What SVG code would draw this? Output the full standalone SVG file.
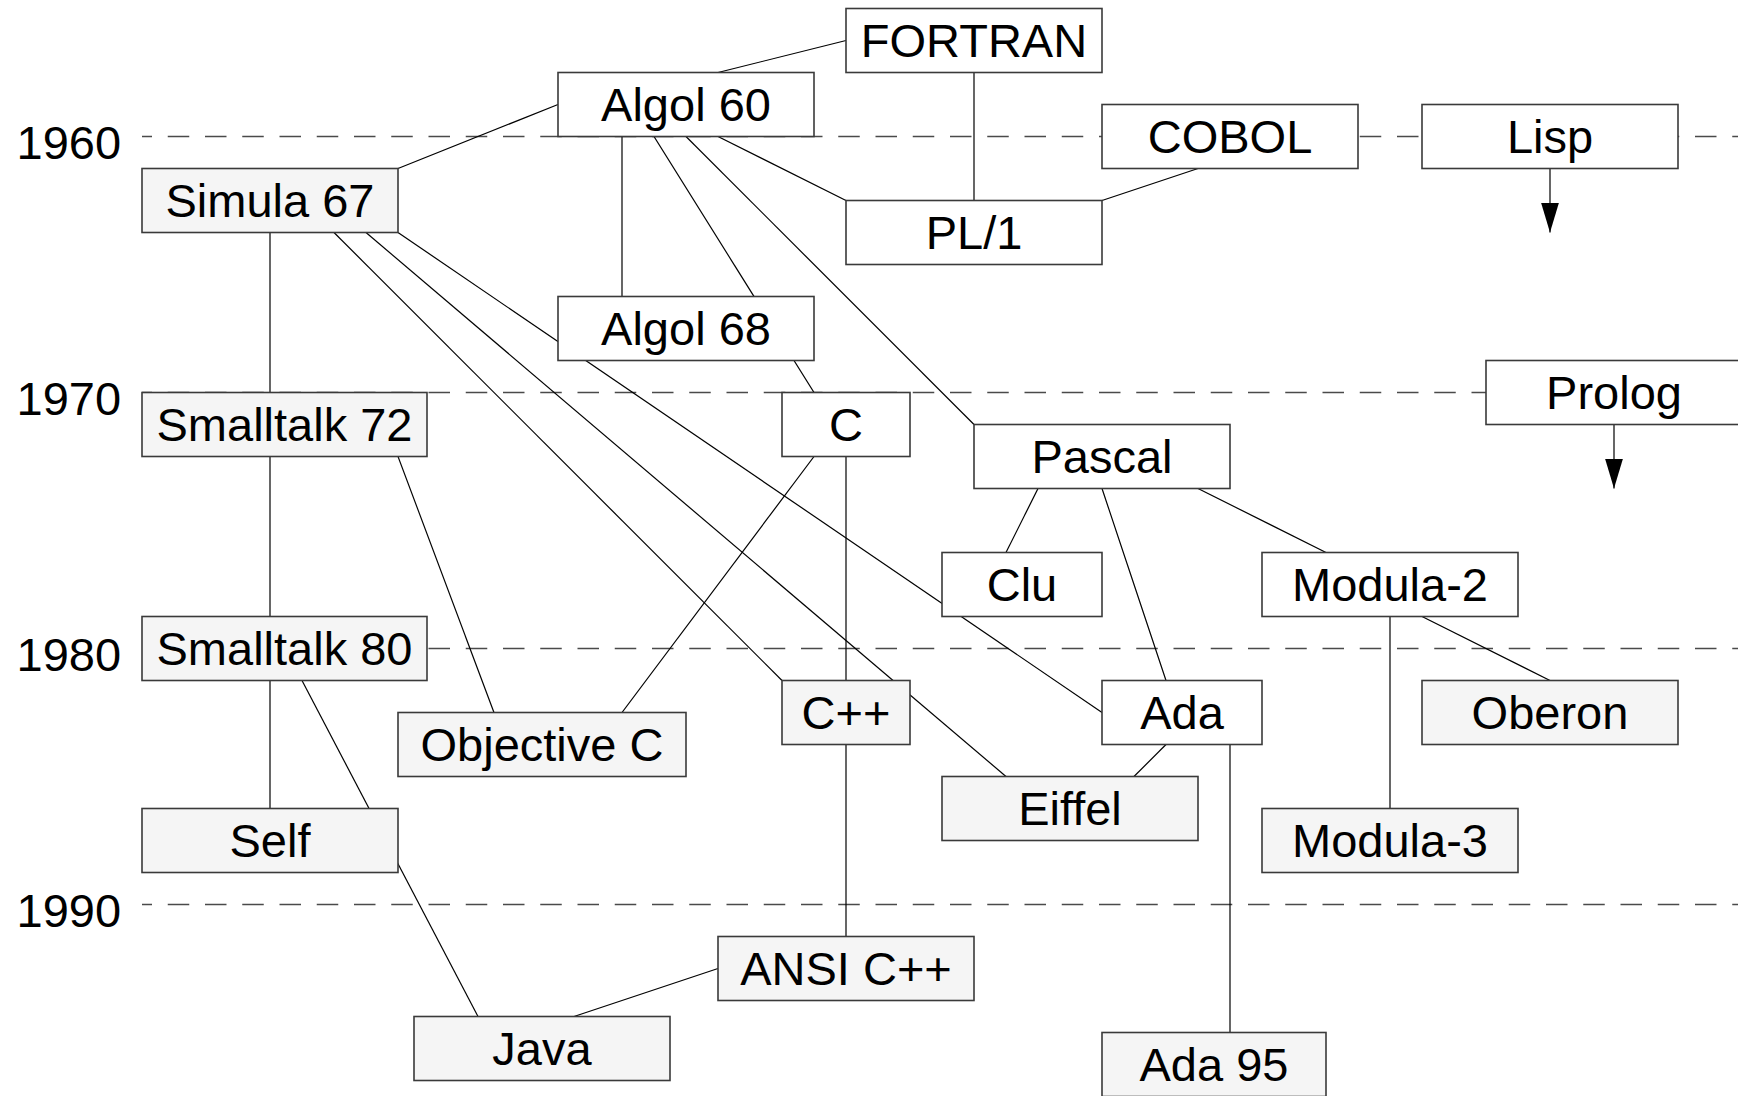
<svg xmlns="http://www.w3.org/2000/svg" width="1738" height="1096" viewBox="0 0 1738 1096">
<style>
.bg{fill:#ffffff}
.year{font-family:"Liberation Sans",Arial,Helvetica,sans-serif;font-size:47px;fill:#000}
.grid{stroke:#4a4a4a;stroke-width:1.5;stroke-dasharray:21.5 15.75;stroke-dashoffset:11.5;fill:none}
.edge{stroke:#000;stroke-width:1.2;fill:none}
.box{stroke:#3a3a3a;stroke-width:1.6}
.plain{fill:#ffffff}
.oo{fill:#f5f5f5}
.lbl{font-family:"Liberation Sans",Arial,Helvetica,sans-serif;font-size:47px;fill:#000;text-anchor:middle}
</style>
<defs>
<marker id="arrow" viewBox="0 0 30 18" refX="30" refY="9" markerWidth="30" markerHeight="18" markerUnits="userSpaceOnUse" orient="auto">
<path d="M0,0 L30,9 L0,18 z" fill="#000"/>
</marker>
</defs>
<rect class="bg" x="0" y="0" width="1738" height="1096"/>
<g id="timeline">
<line class="grid" x1="142" y1="136.5" x2="1738" y2="136.5"/>
<line class="grid" x1="142" y1="392.5" x2="1738" y2="392.5"/>
<line class="grid" x1="142" y1="648.5" x2="1738" y2="648.5"/>
<line class="grid" x1="142" y1="904.5" x2="1738" y2="904.5"/>
<text class="year" x="16.5" y="159">1960</text>
<text class="year" x="16.5" y="415">1970</text>
<text class="year" x="16.5" y="671">1980</text>
<text class="year" x="16.5" y="927">1990</text>
</g>
<g id="connectors">
<line class="edge" x1="846" y1="40.5" x2="718" y2="72.5"/>
<line class="edge" x1="974" y1="72.5" x2="974" y2="200.5"/>
<line class="edge" x1="558" y1="104.5" x2="398" y2="168.5"/>
<line class="edge" x1="622" y1="136.5" x2="622" y2="296.5"/>
<line class="edge" x1="654" y1="136.5" x2="814" y2="392.5"/>
<line class="edge" x1="686" y1="136.5" x2="974" y2="424.5"/>
<line class="edge" x1="718" y1="136.5" x2="846" y2="200.5"/>
<line class="edge" x1="1198" y1="168.5" x2="1102" y2="200.5"/>
<line class="edge" x1="1550" y1="168.5" x2="1550" y2="232.5" marker-end="url(#arrow)"/>
<line class="edge" x1="1614" y1="424.5" x2="1614" y2="488.5" marker-end="url(#arrow)"/>
<line class="edge" x1="270" y1="232.5" x2="270" y2="392.5"/>
<line class="edge" x1="334" y1="232.5" x2="782" y2="680.5"/>
<line class="edge" x1="366" y1="232.5" x2="1006" y2="776.5"/>
<line class="edge" x1="398" y1="232.5" x2="1102" y2="712.5"/>
<line class="edge" x1="270" y1="456.5" x2="270" y2="616.5"/>
<line class="edge" x1="398" y1="456.5" x2="494" y2="712.5"/>
<line class="edge" x1="814" y1="456.5" x2="622" y2="712.5"/>
<line class="edge" x1="846" y1="456.5" x2="846" y2="680.5"/>
<line class="edge" x1="846" y1="744.5" x2="846" y2="936.5"/>
<line class="edge" x1="270" y1="680.5" x2="270" y2="808.5"/>
<line class="edge" x1="302" y1="680.5" x2="478" y2="1016.5"/>
<line class="edge" x1="718" y1="968.5" x2="574" y2="1016.5"/>
<line class="edge" x1="1038" y1="488.5" x2="1006" y2="552.5"/>
<line class="edge" x1="1102" y1="488.5" x2="1166" y2="680.5"/>
<line class="edge" x1="1198" y1="488.5" x2="1326" y2="552.5"/>
<line class="edge" x1="1390" y1="616.5" x2="1390" y2="808.5"/>
<line class="edge" x1="1422" y1="616.5" x2="1550" y2="680.5"/>
<line class="edge" x1="1166" y1="744.5" x2="1134" y2="776.5"/>
<line class="edge" x1="1230" y1="744.5" x2="1230" y2="1032.5"/>
</g>
<g id="fortran"><rect class="box plain" x="846" y="8.5" width="256" height="64"/><text class="lbl" x="974" y="57">FORTRAN</text></g>
<g id="algol60"><rect class="box plain" x="558" y="72.5" width="256" height="64"/><text class="lbl" x="686" y="121">Algol 60</text></g>
<g id="cobol"><rect class="box plain" x="1102" y="104.5" width="256" height="64"/><text class="lbl" x="1230" y="153">COBOL</text></g>
<g id="lisp"><rect class="box plain" x="1422" y="104.5" width="256" height="64"/><text class="lbl" x="1550" y="153">Lisp</text></g>
<g id="simula67"><rect class="box oo" x="142" y="168.5" width="256" height="64"/><text class="lbl" x="270" y="217">Simula 67</text></g>
<g id="pl1"><rect class="box plain" x="846" y="200.5" width="256" height="64"/><text class="lbl" x="974" y="249">PL/1</text></g>
<g id="algol68"><rect class="box plain" x="558" y="296.5" width="256" height="64"/><text class="lbl" x="686" y="345">Algol 68</text></g>
<g id="prolog"><rect class="box plain" x="1486" y="360.5" width="256" height="64"/><text class="lbl" x="1614" y="409">Prolog</text></g>
<g id="smalltalk72"><rect class="box oo" x="142" y="392.5" width="285" height="64"/><text class="lbl" x="284.5" y="441">Smalltalk 72</text></g>
<g id="c"><rect class="box plain" x="782" y="392.5" width="128" height="64"/><text class="lbl" x="846" y="441">C</text></g>
<g id="pascal"><rect class="box plain" x="974" y="424.5" width="256" height="64"/><text class="lbl" x="1102" y="473">Pascal</text></g>
<g id="clu"><rect class="box plain" x="942" y="552.5" width="160" height="64"/><text class="lbl" x="1022" y="601">Clu</text></g>
<g id="modula2"><rect class="box plain" x="1262" y="552.5" width="256" height="64"/><text class="lbl" x="1390" y="601">Modula-2</text></g>
<g id="smalltalk80"><rect class="box oo" x="142" y="616.5" width="285" height="64"/><text class="lbl" x="284.5" y="665">Smalltalk 80</text></g>
<g id="cpp"><rect class="box oo" x="782" y="680.5" width="128" height="64"/><text class="lbl" x="846" y="729">C++</text></g>
<g id="ada"><rect class="box plain" x="1102" y="680.5" width="160" height="64"/><text class="lbl" x="1182" y="729">Ada</text></g>
<g id="oberon"><rect class="box oo" x="1422" y="680.5" width="256" height="64"/><text class="lbl" x="1550" y="729">Oberon</text></g>
<g id="objectivec"><rect class="box oo" x="398" y="712.5" width="288" height="64"/><text class="lbl" x="542" y="761">Objective C</text></g>
<g id="eiffel"><rect class="box oo" x="942" y="776.5" width="256" height="64"/><text class="lbl" x="1070" y="825">Eiffel</text></g>
<g id="self"><rect class="box oo" x="142" y="808.5" width="256" height="64"/><text class="lbl" x="270" y="857">Self</text></g>
<g id="modula3"><rect class="box oo" x="1262" y="808.5" width="256" height="64"/><text class="lbl" x="1390" y="857">Modula-3</text></g>
<g id="ansicpp"><rect class="box oo" x="718" y="936.5" width="256" height="64"/><text class="lbl" x="846" y="985">ANSI C++</text></g>
<g id="java"><rect class="box oo" x="414" y="1016.5" width="256" height="64"/><text class="lbl" x="542" y="1065">Java</text></g>
<g id="ada95"><rect class="box oo" x="1102" y="1032.5" width="224" height="64"/><text class="lbl" x="1214" y="1081">Ada 95</text></g>
</svg>
